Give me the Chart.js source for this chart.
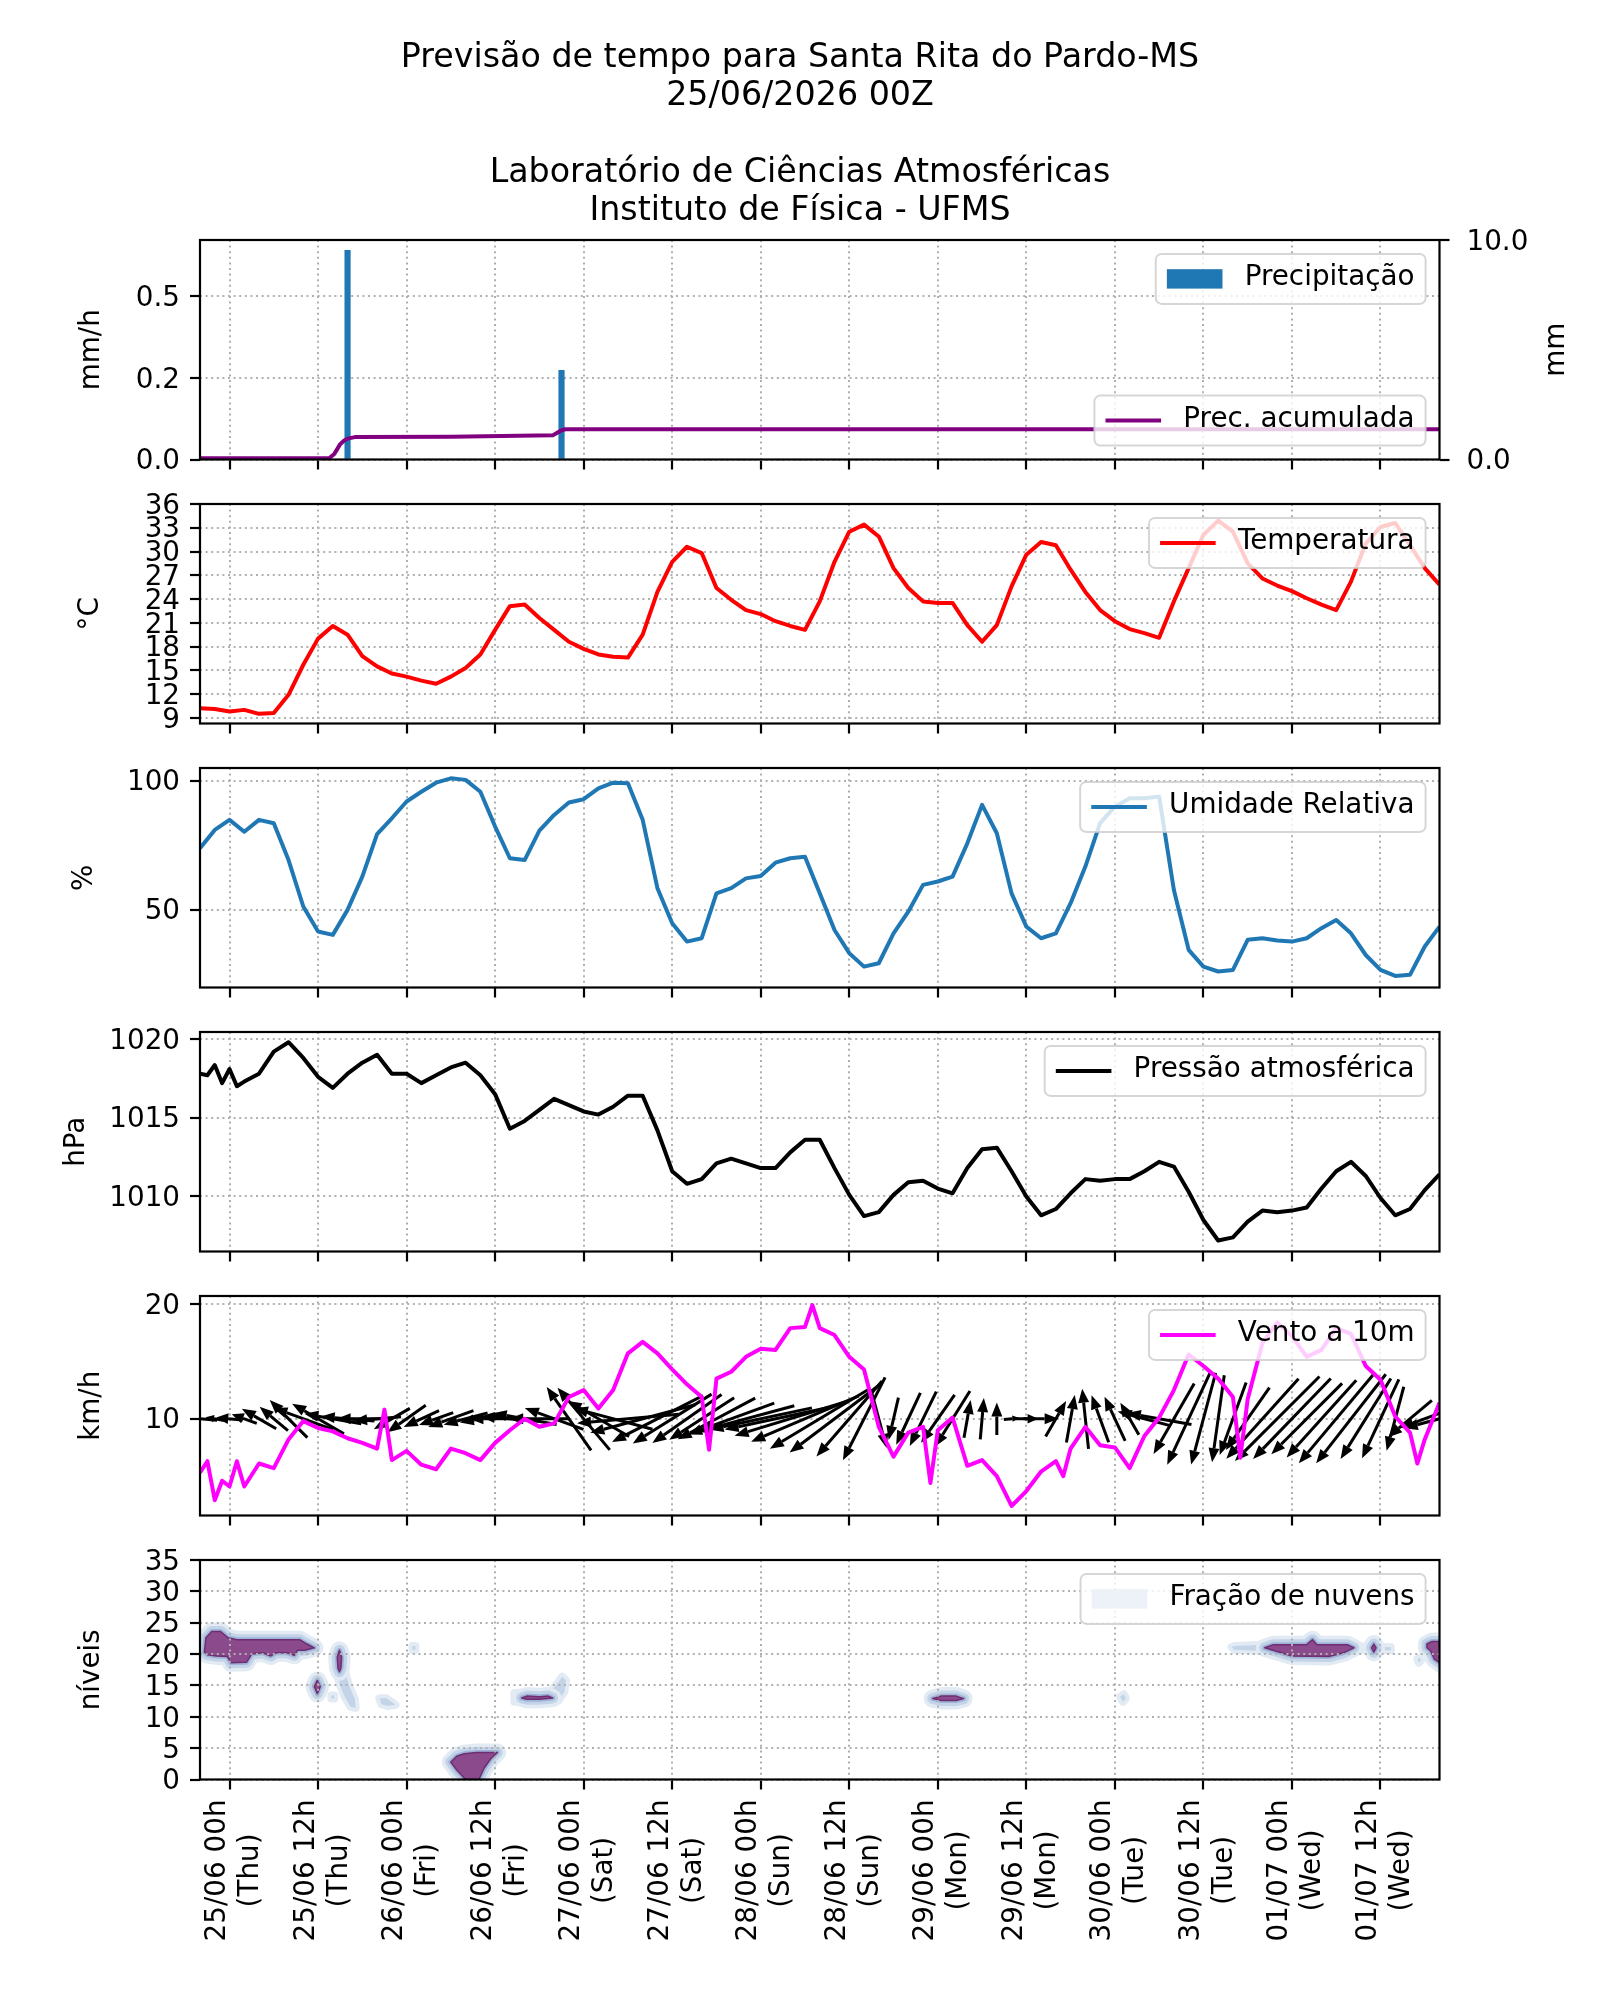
<!DOCTYPE html>
<html>
<head>
<meta charset="utf-8">
<script src="https://cdn.jsdelivr.net/npm/chart.js@4.4.1/dist/chart.umd.min.js"></script>
<style>
  body { margin: 0; background: #fff; }
  #page { position: relative; width: 1600px; height: 2000px; background: #fff; }
  canvas { position: absolute; left: 0; }
</style>
</head>
<body>
<div id="page">
  <canvas id="c1" width="1600" height="500" style="top:0px"></canvas>
  <canvas id="c2" width="1600" height="300" style="top:464px"></canvas>
  <canvas id="c3" width="1600" height="300" style="top:728px"></canvas>
  <canvas id="c4" width="1600" height="300" style="top:992px"></canvas>
  <canvas id="c5" width="1600" height="300" style="top:1256px"></canvas>
  <canvas id="c6" width="1600" height="480" style="top:1520px"></canvas>
</div>
<script>
// hours are counted from 25/06 00h (local time)
var titleLines = ['Previsão de tempo para Santa Rita do Pardo-MS', '25/06/2026 00Z',
                  'Laboratório de Ciências Atmosféricas', 'Instituto de Física - UFMS'];
var titleBaselines = [67, 105, 182, 220];

var tickHours = [0, 12, 24, 36, 48, 60, 72, 84, 96, 108, 120, 132, 144, 156];
var tickDates = ['25/06 00h', '25/06 12h', '26/06 00h', '26/06 12h', '27/06 00h', '27/06 12h', '28/06 00h',
                 '28/06 12h', '29/06 00h', '29/06 12h', '30/06 00h', '30/06 12h', '01/07 00h', '01/07 12h'];
var tickDays = ['(Thu)', '(Thu)', '(Fri)', '(Fri)', '(Sat)', '(Sat)', '(Sun)',
                '(Sun)', '(Mon)', '(Mon)', '(Tue)', '(Tue)', '(Wed)', '(Wed)'];

// every 2 hours from -4 to 164
var hours = [];
for (var h = -4; h <= 164; h += 2) hours.push(h);

// precipitation
var precipHours = [16, 45];
var precip = [0.64, 0.273];
var accHours = [-4, 13.5, 14.2, 15, 15.5, 16, 17, 30, 43.8, 44.3, 45, 45.5, 164];
var accMm = [0.06, 0.06, 0.25, 0.7, 0.85, 0.95, 1.02, 1.04, 1.1, 1.2, 1.33, 1.38, 1.38];

var temperatura = [
  10.2, 10.1, 9.8, 10.0, 9.5, 9.6, 11.9, 15.7, 19.0, 20.6, 19.5, 16.8,
  15.5, 14.6, 14.2, 13.7, 13.3, 14.2, 15.3, 17.0, 20.1, 23.1, 23.3, 21.6,
  20.1, 18.6, 17.7, 17.0, 16.7, 16.6, 19.5, 24.9, 28.7, 30.6, 29.8, 25.4,
  23.9, 22.6, 22.1, 21.2, 20.6, 20.1, 23.7, 28.7, 32.5, 33.4, 31.9, 27.9,
  25.4, 23.7, 23.5, 23.5, 20.7, 18.6, 20.7, 25.6, 29.6, 31.2, 30.8, 27.7,
  24.9, 22.6, 21.2, 20.2, 19.7, 19.1, 23.7, 27.9, 32.1, 33.9, 32.5, 28.5,
  26.6, 25.7, 25.0, 24.1, 23.3, 22.6, 26.2, 31.0, 33.1, 33.6, 30.8, 27.9,
  25.8];

var umidade = [
  73.8, 80.9, 84.8, 80.2, 84.8, 83.5, 69.2, 51.2, 41.5, 40.2, 49.9, 62.8,
  79.3, 85.4, 91.9, 95.7, 99.2, 100.9, 100.3, 95.7, 82.2, 69.9, 69.2, 80.6,
  86.7, 91.5, 92.8, 97.0, 99.2, 99.0, 84.8, 58.3, 44.7, 37.6, 38.9, 56.3,
  58.3, 62.1, 63.0, 68.2, 69.9, 70.5, 56.3, 42.1, 33.1, 27.9, 29.2, 40.8,
  49.2, 59.6, 60.9, 62.8, 75.7, 90.6, 79.6, 56.3, 43.4, 38.9, 40.8, 52.5,
  66.7, 83.5, 89.9, 93.2, 93.2, 93.8, 57.6, 34.4, 27.9, 26.0, 26.6, 38.3,
  38.9, 38.0, 37.6, 38.9, 42.8, 46.0, 40.8, 32.4, 26.6, 24.3, 24.7, 35.7,
  43.4];

var pressao = [
  1017.8, 1018.35, 1018.1, 1017.3, 1017.8, 1019.2, 1019.8, 1018.8, 1017.6, 1016.9, 1017.8, 1018.5,
  1019.0, 1017.8, 1017.8, 1017.2, 1017.7, 1018.2, 1018.5, 1017.7, 1016.5, 1014.3, 1014.8, 1015.5,
  1016.2, 1015.8, 1015.4, 1015.2, 1015.7, 1016.4, 1016.4, 1014.2, 1011.6, 1010.8, 1011.1, 1012.1,
  1012.4, 1012.1, 1011.8, 1011.8, 1012.8, 1013.6, 1013.6, 1011.8, 1010.1, 1008.75, 1009.0, 1010.1,
  1010.9, 1011.0, 1010.5, 1010.2, 1011.8, 1013.0, 1013.1, 1011.6, 1010.0, 1008.8, 1009.2, 1010.2,
  1011.1, 1011.0, 1011.1, 1011.1, 1011.6, 1012.2, 1011.9, 1010.3, 1008.5, 1007.2, 1007.4, 1008.4,
  1009.1, 1009.0, 1009.1, 1009.3, 1010.5, 1011.6, 1012.2, 1011.3, 1009.9, 1008.8, 1009.2, 1010.4,
  1011.4];
var pressaoExtraHours = [-3, -1, 1];
var pressaoExtra = [1017.7, 1017.2, 1017.0];

var vento = [
  5.3, 2.9, 4.1, 4.1, 6.1, 5.7, 8.2, 9.8, 9.2, 8.9, 8.3, 7.9,
  7.4, 6.4, 7.2, 6.0, 5.6, 7.4, 7.0, 6.4, 7.9, 9.0, 10.0, 9.3,
  9.6, 11.9, 12.5, 10.9, 12.5, 15.7, 16.7, 15.7, 14.3, 13.0, 11.9, 13.5,
  14.1, 15.4, 16.1, 16.0, 17.9, 18.0, 17.9, 17.3, 15.4, 14.3, 9.3, 6.7,
  8.8, 9.3, 9.0, 10.1, 5.9, 6.4, 5.0, 2.4, 3.7, 5.4, 6.3, 7.4,
  9.3, 7.7, 7.5, 5.7, 8.5, 10.1, 12.5, 15.6, 14.6, 13.5, 11.9, 11.7,
  16.6, 18.4, 17.2, 15.4, 16.0, 17.9, 17.4, 14.6, 13.4, 10.2, 8.8, 8.2,
  11.4];
var ventoExtraHours = [-3, -1, 1, 21, 65, 79, 95, 113, 137, 161];
var ventoExtra = [6.3, 4.6, 6.3, 10.8, 7.3, 19.9, 4.4, 5.0, 6.6, 6.1];

// direction the arrow points to (degrees, 0 = east, 90 = north), every 2 hours
var ventoDir = [
  175, 170, 175, 160, 150, 140, 135, 160, 150, 170, 175, 180,
  185, 210, 215, 205, 200, 200, 195, 190, 180, 175, 170, 180,
  160, 125, 130, 150, 165, 185, 195, 207, 212, 215, 213, 208,
  200, 195, 192, 192, 197, 203, 211, 217, 229, 243, 285, 257,
  245, 244, 235, 238, 80, 85, 90, 5, 0, 0, 60, 80,
  96, 110, 115, 120, 165, 170, 240, 245, 255, 262, 250, 235,
  228, 225, 226, 225, 228, 230, 232, 238, 245, 255, 220, 200,
  195];

// cloud fraction blobs: [hour, level]
var nuvemDensa = [
  [[-3.4, 20.3], [-3.2, 22.6], [-2.4, 23.6], [-1.2, 23.6], [-0.2, 22.6], [1, 22.3], [9.5, 22.3], [10.5, 21.6],
   [11.5, 21], [10.2, 20.6], [9.2, 20.6], [8.8, 19.8], [7.8, 20.2], [6.3, 20.2], [5.6, 19.7], [4.5, 20.2],
   [3, 20.0], [2.3, 18.7], [0.2, 18.6], [-0.3, 19.6], [-1.8, 19.7], [-3.0, 19.9]],
  [[11.5, 14.8], [11.9, 15.8], [12.3, 14.8], [11.9, 13.7]],
  [[14.6, 19.5], [14.9, 20.6], [15.2, 19.5], [15.1, 17.8], [14.9, 17.2], [14.7, 17.8]],
  [[30.0, 2.8], [30.8, 3.7], [31.8, 4.1], [33.5, 4.3], [35.2, 4.3], [36.3, 4.3], [35.4, 3.3], [34.5, 1.8],
   [33.8, 0], [32.0, 0], [30.8, 1.5]],
  [[39.6, 13.0], [40.3, 13.3], [42, 13.2], [43.2, 13.3], [43.8, 13.0], [42, 12.8], [40.3, 12.8]],
  [[95.3, 12.9], [96.5, 13.3], [98.5, 13.3], [99.5, 12.9], [98.5, 12.6], [96.5, 12.6]],
  [[140.3, 21.0], [141.5, 21.5], [146, 21.5], [146.8, 22.3], [147.4, 21.5], [151.5, 21.5], [152.4, 21.0],
   [151, 20.2], [149, 19.6], [144, 19.7], [142, 20.4]],
  [[154.8, 21.0], [155.1, 21.6], [155.4, 21.0], [155.1, 20.3]],
  [[162.3, 21.6], [163, 22], [164.5, 22], [164.5, 18.2], [163.3, 19.2], [162.8, 20.5], [162.3, 21.0]]
];
var nuvemFraca = [
  [[14.5, 17], [15.5, 18], [16.2, 15], [17.0, 12.8], [17.1, 11.4], [16.4, 11.6], [15.6, 13.2], [15.0, 15.0]],
  [[13.8, 13.4], [14.2, 13.4], [14.2, 12.9], [13.8, 12.9]],
  [[20.3, 12.9], [21.2, 13.0], [22.2, 12.2], [22.5, 11.9], [21.5, 11.7], [20.6, 12.0]],
  [[24.8, 21.3], [25.2, 21.3], [25.2, 20.7], [24.8, 20.7]],
  [[38.6, 12.4], [38.6, 13.8], [41, 13.9], [43.5, 14.0], [44.5, 15.4], [45.1, 16.4], [45.6, 15.8], [45.4, 14],
   [44.6, 12.6], [42, 12.4]],
  [[120.7, 13.2], [121.2, 13.6], [121.5, 13.0], [121.1, 12.4]],
  [[135.8, 21.1], [136.2, 21.3], [140, 21.5], [140, 20.5], [136.2, 20.7]],
  [[152.4, 21.3], [157.4, 21.1], [157.4, 20.6], [152.4, 20.6]],
  [[161.0, 19.2], [161.3, 19.4], [161.5, 19.0], [161.2, 18.6]]
];

var FAM = 'DejaVu Sans';
var FS = 27.8;
var GRID = '#b0b0b0';

function pts(hrs, vals, exHrs, exVals) {
  var out = hrs.map(function (h, i) { return { x: h, y: vals[i] }; });
  (exHrs || []).forEach(function (h, i) { out.push({ x: h, y: exVals[i] }); });
  return out.sort(function (a, b) { return a.x - b.x; });
}

function xAxis() {
  return {
    type: 'linear', min: -4, max: 164, offset: false,
    afterBuildTicks: function (s) { s.ticks = tickHours.map(function (v) { return { value: v }; }); },
    afterFit: function (s) { s.height = 10; },
    ticks: { display: false },
    grid: { offset: false, color: GRID, lineWidth: 2, tickLength: 10, tickColor: '#000', tickWidth: 2.2, tickBorderDash: [] },
    border: { display: false, dash: [2, 3.6] }
  };
}

function yAxis(o) {
  return {
    type: 'linear', position: o.pos || 'left', min: o.min, max: o.max,
    afterBuildTicks: function (s) { s.ticks = o.ticks.map(function (v) { return { value: v }; }); },
    afterFit: function (s) { s.width = o.width || 200; },
    ticks: {
      autoSkip: false, color: '#000', padding: o.tickPad || 10, labelOffset: 2.5,
      font: { family: FAM, size: FS },
      callback: function (v, i) { return o.labels ? o.labels[i] : String(v); }
    },
    grid: { drawOnChartArea: o.grid !== false, color: GRID, lineWidth: 2, tickLength: 10, tickColor: '#000', tickWidth: 2.2, tickBorderDash: [] },
    border: { display: false, dash: [2, 3.6] },
    title: { display: !!o.title, text: o.title, color: '#000', font: { family: FAM, size: FS }, padding: { top: o.tpad || 0, bottom: 0 } }
  };
}

function lineDs(data, color, axis) {
  return { type: 'line', data: data, borderColor: color, borderWidth: 4, pointRadius: 0, tension: 0,
           borderJoinStyle: 'round', fill: false, yAxisID: axis || 'y', order: 1 };
}

function frame(chart) {
  var ctx = chart.ctx, a = chart.chartArea;
  ctx.save();
  ctx.strokeStyle = '#000';
  ctx.lineWidth = 2.2;
  ctx.strokeRect(a.left, a.top, a.right - a.left, a.bottom - a.top);
  ctx.restore();
}

function legendBox(chart, label, kind, color, where) {
  var ctx = chart.ctx, a = chart.chartArea;
  ctx.save();
  ctx.font = FS + 'px ' + FAM;
  var pad = 11.1, hlen = 55.6, gap = 22.2, h = 50;
  var w = pad + hlen + gap + ctx.measureText(label).width + pad;
  var x = a.right - 13.9 - w;
  var y = where === 'bottom' ? a.bottom - 13.9 - h : a.top + 13.9;
  ctx.beginPath();
  ctx.roundRect(x, y, w, h, 6);
  ctx.fillStyle = 'rgba(255,255,255,0.8)';
  ctx.fill();
  ctx.strokeStyle = 'rgba(204,204,204,0.8)';
  ctx.lineWidth = 2;
  ctx.stroke();
  var cy = y + h / 2;
  if (kind === 'line') {
    ctx.beginPath();
    ctx.moveTo(x + pad, cy);
    ctx.lineTo(x + pad + hlen, cy);
    ctx.strokeStyle = color;
    ctx.lineWidth = 4;
    ctx.stroke();
  } else {
    ctx.fillStyle = color;
    ctx.fillRect(x + pad, cy - 9.7, hlen, 19.4);
  }
  ctx.fillStyle = '#000';
  ctx.textBaseline = 'middle';
  ctx.textAlign = 'left';
  ctx.fillText(label, x + pad + hlen + gap, cy - 1);
  ctx.restore();
}

function baseOptions(padding, scales) {
  return {
    responsive: false, animation: false, devicePixelRatio: 1, events: [],
    layout: { padding: padding },
    plugins: { legend: { display: false }, tooltip: { enabled: false } },
    scales: scales
  };
}

// ---- panel 1: precipitation
new Chart(document.getElementById('c1'), {
  type: 'line',
  data: {
    datasets: [
      lineDs(pts(accHours, accMm), '#800080', 'y1'),
      { type: 'bar', data: pts(precipHours, precip), backgroundColor: '#1f77b4', barThickness: 5.5, yAxisID: 'y', order: 2 }
    ]
  },
  options: baseOptions({ top: 240, bottom: 30.5, left: 0, right: 0 }, {
    x: xAxis(),
    y: yAxis({ min: 0, max: 0.672, ticks: [0, 0.25, 0.5], labels: ['0.0', '0.2', '0.5'], title: 'mm/h', tpad: 75 }),
    y1: yAxis({ pos: 'right', min: 0, max: 10, ticks: [0, 10], labels: ['0.0', '10.0'], width: 160.5, grid: false, tickPad: 17 })
  }),
  plugins: [{
    id: 'deco1',
    afterDatasetsDraw: function (chart) {
      frame(chart);
      legendBox(chart, 'Precipitação', 'patch', '#1f77b4', 'top');
      legendBox(chart, 'Prec. acumulada', 'line', '#800080', 'bottom');
    },
    afterDraw: function (chart) {
      var ctx = chart.ctx, a = chart.chartArea;
      ctx.save();
      ctx.fillStyle = '#000';
      ctx.font = '33.3px ' + FAM;
      ctx.textAlign = 'center';
      ctx.textBaseline = 'alphabetic';
      titleLines.forEach(function (t, i) { ctx.fillText(t, 800, titleBaselines[i]); });
      ctx.font = FS + 'px ' + FAM;
      ctx.translate(1557, (a.top + a.bottom) / 2);
      ctx.rotate(-Math.PI / 2);
      ctx.textBaseline = 'middle';
      ctx.fillText('mm', 0, 0);
      ctx.restore();
    }
  }]
});

// ---- panel 2: temperature
new Chart(document.getElementById('c2'), {
  type: 'line',
  data: { datasets: [lineDs(pts(hours, temperatura), '#ff0000')] },
  options: baseOptions({ top: 40, bottom: 30.5, left: 0, right: 160.5 }, {
    x: xAxis(),
    y: yAxis({ min: 8.28, max: 36, ticks: [9, 12, 15, 18, 21, 24, 27, 30, 33, 36], title: '°C', tpad: 74 })
  }),
  plugins: [{
    id: 'deco2',
    afterDatasetsDraw: function (chart) {
      frame(chart);
      legendBox(chart, 'Temperatura', 'line', '#ff0000', 'top');
    }
  }]
});

// ---- panel 3: relative humidity
new Chart(document.getElementById('c3'), {
  type: 'line',
  data: { datasets: [lineDs(pts(hours, umidade), '#1f77b4')] },
  options: baseOptions({ top: 40, bottom: 30.5, left: 0, right: 160.5 }, {
    x: xAxis(),
    y: yAxis({ min: 19.8, max: 104.9, ticks: [50, 100], title: '%', tpad: 68 })
  }),
  plugins: [{
    id: 'deco3',
    afterDatasetsDraw: function (chart) {
      frame(chart);
      legendBox(chart, 'Umidade Relativa', 'line', '#1f77b4', 'top');
    }
  }]
});

// ---- panel 4: pressure
new Chart(document.getElementById('c4'), {
  type: 'line',
  data: { datasets: [lineDs(pts(hours, pressao, pressaoExtraHours, pressaoExtra), '#000000')] },
  options: baseOptions({ top: 40, bottom: 30.5, left: 0, right: 160.5 }, {
    x: xAxis(),
    y: yAxis({ min: 1006.5, max: 1020.45, ticks: [1010, 1015, 1020], title: 'hPa', tpad: 60 })
  }),
  plugins: [{
    id: 'deco4',
    afterDatasetsDraw: function (chart) {
      frame(chart);
      legendBox(chart, 'Pressão atmosférica', 'line', '#000000', 'top');
    }
  }]
});

// ---- panel 5: wind
function drawArrow(ctx, cx, cy, ang, len) {
  var dx = Math.cos(ang * Math.PI / 180), dy = -Math.sin(ang * Math.PI / 180);
  var tx = cx - dx * len / 2, ty = cy - dy * len / 2;
  var hx = cx + dx * len / 2, hy = cy + dy * len / 2;
  var hl = Math.min(14, len * 0.45), hw = Math.min(5.5, len * 0.2);
  var bx = hx - dx * hl, by = hy - dy * hl;
  ctx.beginPath();
  ctx.moveTo(tx, ty);
  ctx.lineTo(bx, by);
  ctx.stroke();
  ctx.beginPath();
  ctx.moveTo(hx, hy);
  ctx.lineTo(bx - dy * hw, by + dx * hw);
  ctx.lineTo(bx + dy * hw, by - dx * hw);
  ctx.closePath();
  ctx.fill();
}

new Chart(document.getElementById('c5'), {
  type: 'line',
  data: { datasets: [lineDs(pts(hours, vento, ventoExtraHours, ventoExtra), '#ff00ff')] },
  options: baseOptions({ top: 40, bottom: 30.5, left: 0, right: 160.5 }, {
    x: xAxis(),
    y: yAxis({ min: 1.57, max: 20.7, ticks: [10, 20], title: 'km/h', tpad: 75 })
  }),
  plugins: [{
    id: 'deco5',
    beforeDatasetsDraw: function (chart) {
      var ctx = chart.ctx, a = chart.chartArea, xs = chart.scales.x, ys = chart.scales.y;
      ctx.save();
      ctx.beginPath();
      ctx.rect(a.left, a.top, a.right - a.left, a.bottom - a.top);
      ctx.clip();
      ctx.strokeStyle = '#000';
      ctx.fillStyle = '#000';
      ctx.lineWidth = 3;
      hours.forEach(function (h, i) {
        drawArrow(ctx, xs.getPixelForValue(h), ys.getPixelForValue(10), ventoDir[i], vento[i] * 6.5);
      });
      ctx.restore();
    },
    afterDatasetsDraw: function (chart) {
      frame(chart);
      legendBox(chart, 'Vento a 10m', 'line', '#ff00ff', 'top');
    }
  }]
});

// ---- panel 6: cloud fraction
function polyPath(ctx, xs, ys, poly) {
  ctx.beginPath();
  poly.forEach(function (p, i) {
    var X = xs.getPixelForValue(p[0]), Y = ys.getPixelForValue(p[1]);
    if (i === 0) ctx.moveTo(X, Y); else ctx.lineTo(X, Y);
  });
  ctx.closePath();
}

new Chart(document.getElementById('c6'), {
  type: 'scatter',
  data: { datasets: [] },
  options: baseOptions({ top: 40, bottom: 210.5, left: 0, right: 160.5 }, {
    x: xAxis(),
    y: yAxis({ min: 0, max: 35, ticks: [0, 5, 10, 15, 20, 25, 30, 35], title: 'níveis', tpad: 75 })
  }),
  plugins: [{
    id: 'deco6',
    beforeDraw: function (chart) {
      var ctx = chart.ctx, a = chart.chartArea, xs = chart.scales.x, ys = chart.scales.y;
      ctx.save();
      ctx.beginPath();
      ctx.rect(a.left, a.top, a.right - a.left, a.bottom - a.top);
      ctx.clip();
      ctx.lineJoin = 'round';
      // light halos
      nuvemFraca.forEach(function (poly) {
        polyPath(ctx, xs, ys, poly);
        ctx.strokeStyle = '#e2ebf4'; ctx.lineWidth = 8; ctx.stroke();
        ctx.fillStyle = '#c3d4e8'; ctx.fill();
      });
      nuvemDensa.forEach(function (poly) {
        polyPath(ctx, xs, ys, poly);
        ctx.strokeStyle = '#e2ebf4'; ctx.lineWidth = 18; ctx.stroke();
        ctx.strokeStyle = '#c3d4e8'; ctx.lineWidth = 11; ctx.stroke();
        ctx.strokeStyle = '#9fb4d8'; ctx.lineWidth = 5; ctx.stroke();
      });
      nuvemDensa.forEach(function (poly) {
        polyPath(ctx, xs, ys, poly);
        ctx.fillStyle = '#8a4a8c'; ctx.fill();
        ctx.strokeStyle = '#6f2d72'; ctx.lineWidth = 1.5; ctx.stroke();
      });
      ctx.restore();
    },
    afterDatasetsDraw: function (chart) {
      frame(chart);
      legendBox(chart, 'Fração de nuvens', 'patch', '#edf2f8', 'top');
    },
    afterDraw: function (chart) {
      var ctx = chart.ctx, a = chart.chartArea, xs = chart.scales.x;
      ctx.save();
      ctx.fillStyle = '#000';
      ctx.font = FS + 'px ' + FAM;
      ctx.textBaseline = 'alphabetic';
      tickHours.forEach(function (h, i) {
        var x = xs.getPixelForValue(h);
        ctx.save();
        ctx.translate(x, a.bottom + 20);
        ctx.rotate(-Math.PI / 2);
        var w1 = ctx.measureText(tickDates[i]).width;
        ctx.textAlign = 'right';
        ctx.fillText(tickDates[i], 0, -4.5);
        ctx.textAlign = 'center';
        ctx.fillText(tickDays[i], -w1 / 2, 28.5);
        ctx.restore();
      });
      ctx.restore();
    }
  }]
});
</script>
</body>
</html>
